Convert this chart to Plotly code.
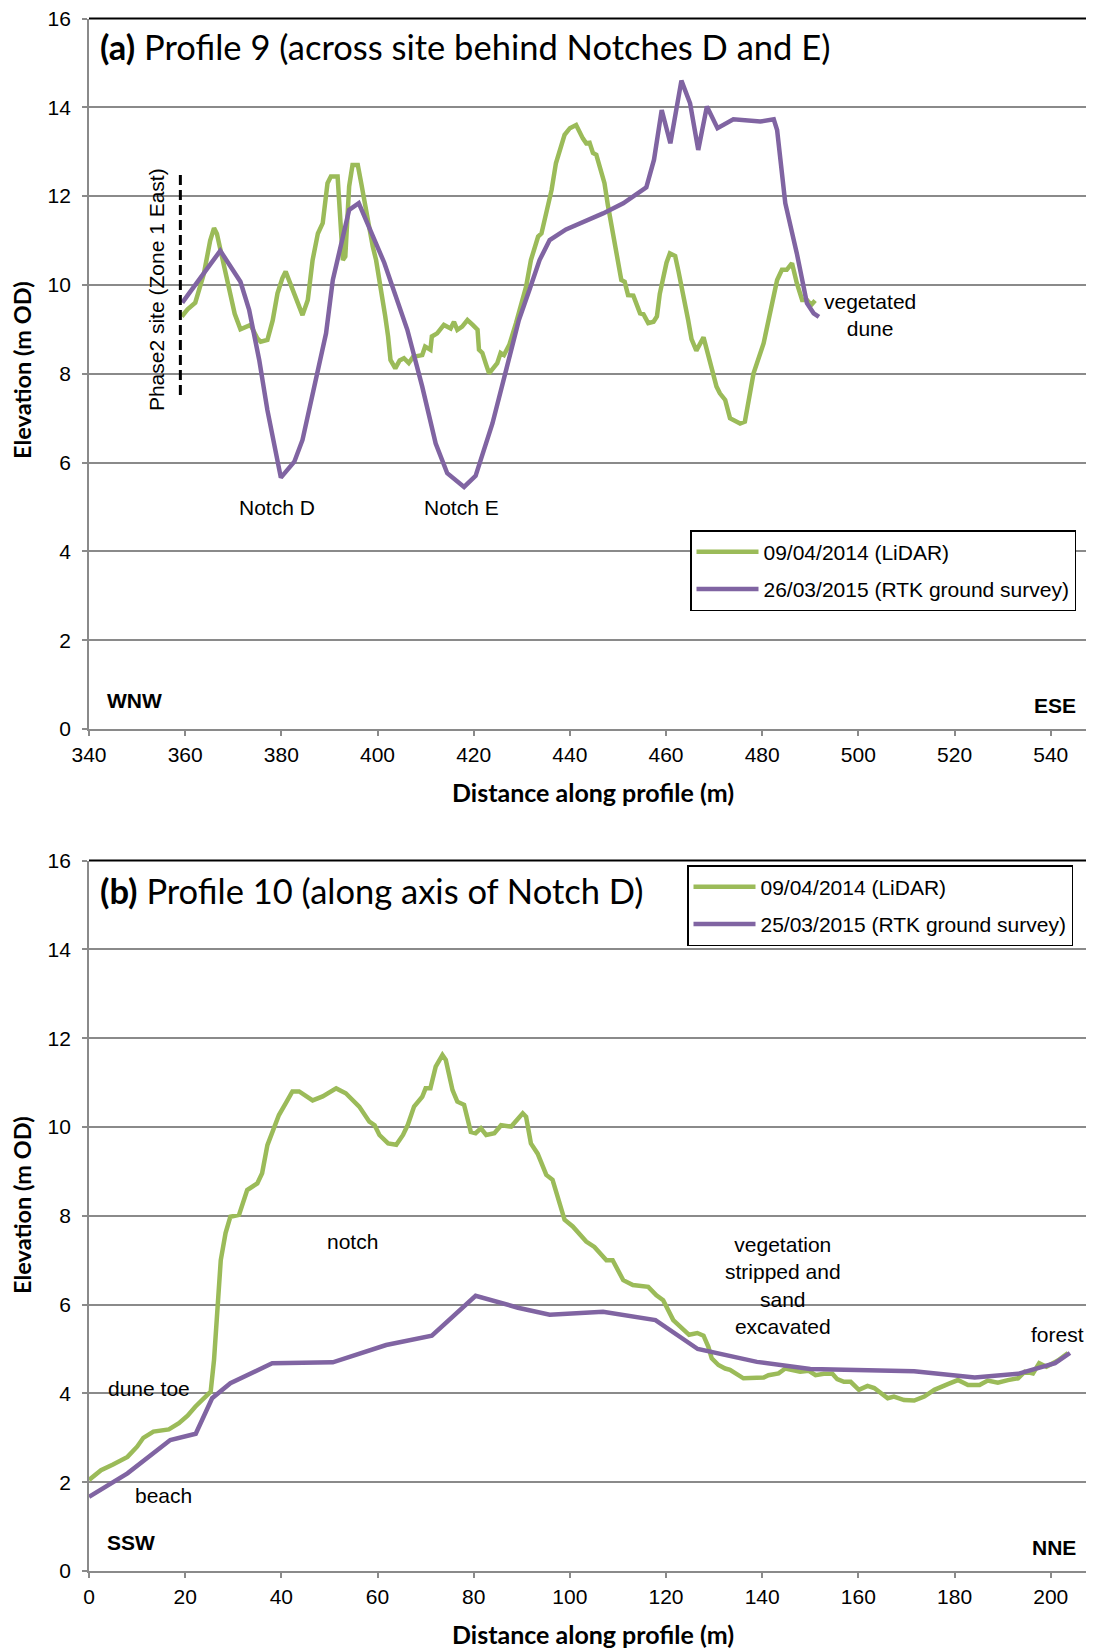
import plotly.graph_objects as go

# ---------------- Profile 9 (panel a) ----------------
p9_lidar_x = [359.3, 360.5, 362.1, 363.9, 365.2, 366.0, 366.6, 368.0, 369.1, 370.3, 371.5, 373.6, 375.0, 375.7,
              377.1, 378.2, 379.2, 380.2, 380.9, 381.6, 382.7, 384.4, 385.5, 386.5, 387.6, 388.6, 389.6, 390.3,
              391.7, 392.3, 392.8, 393.3, 394.1, 394.8, 395.9, 396.6, 397.3, 399.0, 399.7, 400.8, 401.6, 402.2,
              402.7, 403.7, 404.6, 405.5, 406.5, 407.4, 408.6, 409.3, 409.9, 411.0, 411.3, 412.4, 413.8, 415.2,
              415.9, 416.6, 417.6, 418.7, 419.8, 420.8, 421.1, 421.8, 422.6, 423.2, 424.9, 425.6, 426.3, 427.4,
              428.8, 430.9, 431.9, 433.4, 434.1, 435.1, 436.2, 437.1, 438.0, 438.9, 440.0, 441.3, 442.7, 443.4,
              444.1, 444.8, 445.5, 446.5, 447.2, 447.9, 449.0, 450.0, 450.7, 451.4, 452.1, 453.2, 454.6, 455.3,
              456.3, 457.4, 458.1, 458.7, 459.4, 460.1, 460.8, 461.9, 462.6, 463.4, 464.6, 465.3, 466.3, 467.8,
              469.1, 470.5, 471.2, 472.3, 473.3, 474.2, 475.4, 476.4, 477.2, 478.2, 480.3, 481.7, 483.1, 484.1,
              485.1, 486.2, 487.2, 488.3, 489.3, 490.2, 491.0]
p9_lidar_y = [9.29, 9.45, 9.60, 10.26, 11.00, 11.28, 11.15, 10.50, 9.89, 9.35, 9.00, 9.10, 8.80, 8.72,
              8.76, 9.20, 9.81, 10.15, 10.30, 10.10, 9.74, 9.32, 9.66, 10.56, 11.16, 11.39, 12.29, 12.44,
              12.44, 11.50, 10.56, 10.64, 12.22, 12.70, 12.70, 12.30, 11.84, 10.87, 10.56, 9.90, 9.30, 8.84,
              8.31, 8.12, 8.30, 8.35, 8.24, 8.38, 8.42, 8.42, 8.61, 8.54, 8.84, 8.91, 9.10, 9.02,
              9.17, 8.99, 9.06, 9.21, 9.10, 8.99, 8.54, 8.47, 8.20, 8.01, 8.24, 8.47, 8.42, 8.65,
              9.14, 9.96, 10.56, 11.09, 11.16, 11.65, 12.14, 12.74, 13.10, 13.38, 13.53, 13.60, 13.30, 13.19,
              13.20, 12.97, 12.93, 12.52, 12.29, 11.80, 11.09, 10.45, 10.11, 10.07, 9.77, 9.76, 9.36, 9.34,
              9.14, 9.17, 9.29, 9.80, 10.19, 10.50, 10.71, 10.65, 10.30, 9.90, 9.21, 8.78, 8.52, 8.82,
              8.31, 7.71, 7.56, 7.41, 7.00, 6.95, 6.88, 6.92, 7.40, 8.01, 8.69, 9.36, 10.11, 10.34,
              10.34, 10.49, 10.04, 9.66, 9.66, 9.55, 9.65]

p9_rtk_x = [359.4, 367.3, 371.5, 373.3, 375.4, 377.1, 379.9, 382.7, 384.4, 389.3, 390.7, 394.1, 396.1, 401.4,
            406.2, 409.3, 412.1, 414.5, 418.0, 420.4, 423.9, 427.4, 429.4, 431.6, 433.7, 435.8, 439.2, 446.9,
            451.1, 455.9, 457.5, 459.1, 460.9, 463.2, 465.0, 466.7, 468.5, 470.7, 474.0, 479.6, 482.4, 483.1,
            484.8, 487.2, 489.3, 490.7, 491.8]
p9_rtk_y = [9.60, 10.77, 10.07, 9.44, 8.31, 7.18, 5.66, 6.02, 6.51, 8.91, 10.11, 11.69, 11.84, 10.50,
            8.99, 7.71, 6.43, 5.76, 5.45, 5.70, 6.88, 8.39, 9.21, 9.89, 10.56, 11.01, 11.25, 11.61,
            11.84, 12.20, 12.82, 13.94, 13.19, 14.60, 14.09, 13.04, 14.02, 13.53, 13.73, 13.68, 13.73, 13.49,
            11.84, 10.71, 9.59, 9.36, 9.28]

# ---------------- Profile 10 (panel b) ----------------
p10_lidar_x = [0, 1.5, 2.5, 5, 8, 10, 11.3, 13.4, 16.6, 18.7, 20.5, 22.1, 24, 25.3, 26.0, 26.7, 27.4, 28.4,
               29.4, 31.2, 32.9, 35.0, 36.0, 37.1, 38.1, 39.5, 40.9, 42.3, 43.7, 44.7, 46.5, 48.6, 51.4, 53.4,
               56.2, 58.3, 59.4, 60.4, 62.2, 63.9, 65.3, 66.3, 67.6, 69.3, 70.0, 71.0, 72.1, 73.5, 74.2, 75.6,
               76.6, 78.0, 79.4, 80.4, 81.5, 82.6, 84.3, 85.7, 87.8, 90.2, 90.9, 91.9, 93.3, 95.1, 96.4, 98.9,
               100.6, 103.4, 105.1, 107.6, 108.9, 111.1, 113.1, 116.3, 118.0, 119.4, 120.4, 121.5, 124.8, 126.5,
               127.8, 128.8, 129.5, 130.9, 132.3, 133.3, 136.1, 140.3, 141.3, 143.4, 144.8, 145.8, 147.9, 149.7,
               151.1, 152.8, 154.6, 155.6, 157.0, 158.4, 160.1, 161.9, 163.3, 166.1, 167.4, 169.5, 171.6, 173.7,
               175.8, 178.6, 180.7, 182.8, 185.2, 186.9, 189.0, 191.1, 193.2, 194.6, 196.3, 197.6, 199.1, 201.5,
               203.6]
p10_lidar_y = [2.05, 2.20, 2.27, 2.40, 2.57, 2.80, 3.00, 3.14, 3.19, 3.33, 3.50, 3.70, 3.90, 4.04, 4.75, 5.88, 7.00, 7.61,
               7.98, 8.02, 8.58, 8.73, 8.96, 9.59, 9.85, 10.27, 10.53, 10.80, 10.80, 10.72, 10.60, 10.69, 10.87, 10.76,
               10.46, 10.12, 10.04, 9.82, 9.63, 9.60, 9.82, 10.05, 10.46, 10.68, 10.87, 10.87, 11.36, 11.62, 11.51, 10.83,
               10.57, 10.50, 9.89, 9.86, 9.97, 9.82, 9.86, 10.04, 10.01, 10.31, 10.23, 9.63, 9.40, 8.92, 8.81, 7.91,
               7.76, 7.42, 7.30, 7.00, 7.00, 6.55, 6.44, 6.40, 6.21, 6.10, 5.88, 5.65, 5.32, 5.36,
               5.30, 5.05, 4.79, 4.64, 4.56, 4.53, 4.34, 4.36, 4.41, 4.45, 4.56, 4.53, 4.49, 4.51,
               4.41, 4.44, 4.44, 4.32, 4.26, 4.26, 4.08, 4.17, 4.12, 3.89, 3.93, 3.85, 3.84, 3.93,
               4.08, 4.21, 4.30, 4.19, 4.19, 4.29, 4.24, 4.30, 4.34, 4.49, 4.45, 4.68, 4.60, 4.74,
               4.91]

p10_rtk_x = [0, 8, 16.9, 22.2, 25.6, 29.4, 38.1, 50.7, 61.8, 71.3, 80.4, 89.2, 95.8, 106.9, 117.8, 126.6,
             138.9, 150.0, 171.6, 184.2, 193.2, 200.9, 204.0]
p10_rtk_y = [1.67, 2.20, 2.95, 3.09, 3.89, 4.23, 4.68, 4.70, 5.09, 5.30, 6.20, 5.93, 5.77, 5.84, 5.65, 5.00,
             4.71, 4.55, 4.50, 4.36, 4.44, 4.68, 4.91]

legend_a = ["09/04/2014 (LiDAR)", "26/03/2015 (RTK ground survey)"]
legend_b = ["09/04/2014 (LiDAR)", "25/03/2015 (RTK ground survey)"]

GREEN = "#9BBB59"
PURPLE = "#8064A2"
GRID = "#8a8a8a"
ARIAL = "Arial, Liberation Sans, sans-serif"
CAL = "Lato, Open Sans, sans-serif"

# page offset (browser body margin) compensation
OFF = 8
W, H = 1094 - OFF, 1650 - OFF
def py(page_y):          # page pixel -> paper y
    return 1 - (page_y - OFF) / H
def px(page_x):          # page pixel -> paper x (plot area 89..1094)
    return (page_x - 89) / 1005.0

fig = go.Figure()
fig.add_trace(go.Scatter(x=p9_lidar_x, y=p9_lidar_y, mode="lines", name=legend_a[0], legendgroup="a1",
                         line=dict(color=GREEN, width=4.5), xaxis="x", yaxis="y", legend="legend"))
fig.add_trace(go.Scatter(x=p9_rtk_x, y=p9_rtk_y, mode="lines", name=legend_a[1], legendgroup="a2",
                         line=dict(color=PURPLE, width=4.5), xaxis="x", yaxis="y", legend="legend"))
fig.add_trace(go.Scatter(x=p10_lidar_x, y=p10_lidar_y, mode="lines", name=legend_b[0], legendgroup="b1",
                         line=dict(color=GREEN, width=4.5), xaxis="x2", yaxis="y2", legend="legend2"))
fig.add_trace(go.Scatter(x=p10_rtk_x, y=p10_rtk_y, mode="lines", name=legend_b[1], legendgroup="b2",
                         line=dict(color=PURPLE, width=4.5), xaxis="x2", yaxis="y2", legend="legend2"))

# Phase2 site marker (dashed)
fig.add_trace(go.Scatter(x=[359.0, 359.0], y=[7.52, 12.48], mode="lines", showlegend=False,
                         line=dict(color="black", width=3, dash="10px,5px"), xaxis="x", yaxis="y"))

xcommon = dict(showline=True, linecolor=GRID, linewidth=1.8, ticks="outside", ticklen=5, tickcolor=GRID,
               tickwidth=1.5, showgrid=False, zeroline=False, dtick=20, automargin=False,
               tickfont=dict(family=ARIAL, size=21, color="black"), ticklabelstandoff=1)
ycommon = dict(showline=True, linecolor=GRID, linewidth=1.8, ticks="outside", ticklen=5, tickcolor=GRID,
               tickwidth=1.5, showgrid=True, gridcolor=GRID, gridwidth=1.8, zeroline=False, automargin=False,
               range=[0, 16], dtick=2, tickfont=dict(family=ARIAL, size=21, color="black"),
               ticklabelstandoff=7, ticklabeloverflow="allow")

legend_common = dict(xanchor="left", yanchor="top", bgcolor="white", bordercolor="black", borderwidth=1.5,
                     font=dict(family=ARIAL, size=21, color="black"), tracegroupgap=7,
                     traceorder="grouped", itemwidth=62)

fig.update_layout(
    width=W, height=H,
    margin=dict(l=89 - OFF, r=0, t=0, b=0, autoexpand=False),
    paper_bgcolor="white", plot_bgcolor="white",
    xaxis=dict(domain=[0, 1], range=[340, 549], anchor="y", tick0=340, **xcommon),
    yaxis=dict(domain=[py(729), py(18.5)], anchor="x", **ycommon),
    xaxis2=dict(domain=[0, 1], range=[0, 209], anchor="y2", tick0=0, **xcommon),
    yaxis2=dict(domain=[py(1571), py(860.6)], anchor="x2", **ycommon),
    legend=dict(x=px(690), y=py(530), **legend_common),
    legend2=dict(x=px(687), y=py(865), **legend_common),
    showlegend=True,
)

# black top border of each plot area (paper-referenced so it is not clipped)
for top in (18.5, 860.6):
    fig.add_shape(type="line", xref="paper", yref="paper", x0=0, x1=1, y0=py(top), y1=py(top),
                  line=dict(color="black", width=2), layer="above")

ann = []
def txt(text, x, y, xref, yref, size=21, family=ARIAL, xanchor="center", yanchor="middle", angle=0):
    ann.append(dict(text=text, x=x, y=y, xref=xref, yref=yref, showarrow=False, xanchor=xanchor,
                    yanchor=yanchor, textangle=angle, font=dict(family=family, size=size, color="black")))

# panel titles
txt("<b>(a)</b> Profile 9 (across site behind Notches D and E)", 341.9, 15.36, "x", "y",
    size=34.5, family=CAL, xanchor="left")
txt("<b>(b)</b> Profile 10 (along axis of Notch D)", 1.9, 15.32, "x2", "y2",
    size=34.5, family=CAL, xanchor="left")

# panel a annotations
txt("Notch D", 379.1, 4.98, "x", "y")
txt("Notch E", 417.4, 4.98, "x", "y")
txt("vegetated<br>dune", 502.4, 9.32, "x", "y")
txt("Phase2 site (Zone 1 East)", 354.2, 9.89, "x", "y", angle=-90)
txt("<b>WNW</b>", 343.3, 0.65, "x", "y", size=21, xanchor="left")
txt("<b>ESE</b>", 545.7, 0.54, "x", "y", size=21, xanchor="right")

# panel b annotations
txt("notch", 54.9, 7.43, "x2", "y2")
txt("dune toe", 12.5, 4.12, "x2", "y2")
txt("beach", 15.4, 1.69, "x2", "y2")
txt("vegetation<br>stripped and<br>sand<br>excavated", 144.3, 6.43, "x2", "y2")
txt("forest", 201.5, 5.32, "x2", "y2")
txt("<b>SSW</b>", 3.3, 0.65, "x2", "y2", size=21, xanchor="left")
txt("<b>NNE</b>", 205.7, 0.54, "x2", "y2", size=21, xanchor="right")

# axis titles
txt("<b>Elevation (m OD)</b>", px(22), py(370), "paper", "paper", size=23.5, family=CAL, angle=-90)
txt("<b>Elevation (m OD)</b>", px(22), py(1205), "paper", "paper", size=23.5, family=CAL, angle=-90)
txt("<b>Distance along profile (m)</b>", px(593), py(792), "paper", "paper", size=25, family=CAL)
txt("<b>Distance along profile (m)</b>", px(593), py(1634), "paper", "paper", size=25, family=CAL)

fig.update_layout(annotations=ann)
fig.write_html("out.html")
